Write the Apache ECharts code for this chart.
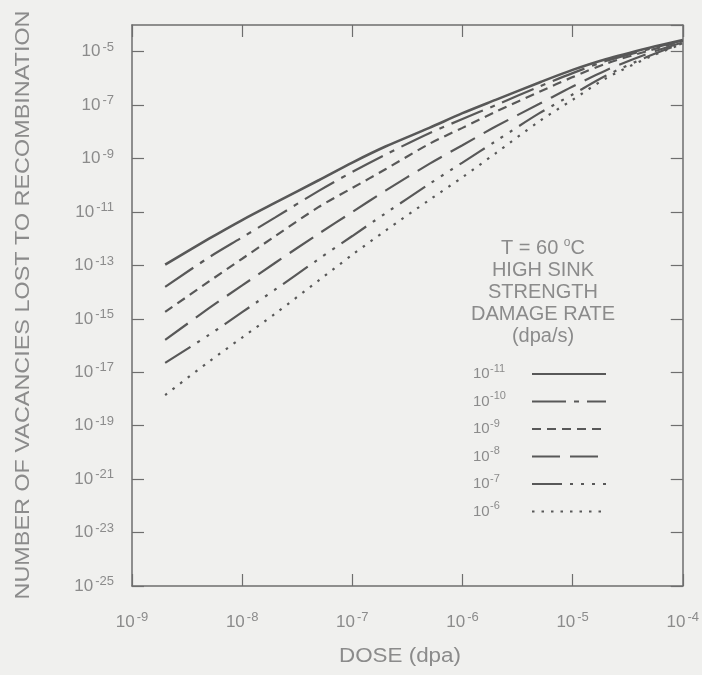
<!DOCTYPE html>
<html><head><meta charset="utf-8">
<script src="https://cdn.jsdelivr.net/npm/echarts@6/dist/echarts.min.js"></script>
<style>html,body{margin:0;padding:0;background:#f0f0ee;}#c{width:702px;height:675px;}#err{position:absolute;left:150px;top:100px;font:12px monospace;color:red;white-space:pre-wrap;width:500px;}</style>
</head><body><div id="c"></div><div id="err"></div>
<script>
// Dose (dpa) sample points
const dose = [2e-9, 5e-9, 1e-8, 2e-8, 5e-8, 1e-7, 2e-7, 5e-7, 1e-6, 2e-6, 5e-6, 1e-5, 2e-5, 5e-5, 1e-4];
// Vacancies lost to recombination, one array per damage rate (dpa/s)
const rate1e11 = [1.07e-13, 1.0e-12, 5.01e-12, 2.24e-11, 1.58e-10, 7.08e-10, 2.82e-9, 1.41e-8, 5.01e-8, 1.58e-7, 7.08e-7, 2.09e-6, 5.25e-6, 1.41e-5, 2.75e-5];
const rate1e10 = [1.58e-14, 2.0e-13, 1.12e-12, 6.31e-12, 6.31e-11, 3.16e-10, 1.41e-9, 8.91e-9, 3.02e-8, 1.0e-7, 5.01e-7, 1.58e-6, 4.47e-6, 1.26e-5, 2.63e-5];
const rate1e9  = [1.82e-15, 2.51e-14, 1.78e-13, 1.26e-12, 1.58e-11, 7.94e-11, 3.98e-10, 3.55e-9, 1.41e-8, 5.62e-8, 3.16e-7, 1.12e-6, 3.55e-6, 1.12e-5, 2.51e-5];
const rate1e8  = [1.62e-16, 2.51e-15, 1.78e-14, 1.26e-13, 1.58e-12, 1.0e-11, 6.31e-11, 6.31e-10, 3.16e-9, 1.58e-8, 1.12e-7, 5.01e-7, 2.0e-6, 8.91e-6, 2.24e-5];
const rate1e7  = [2.24e-17, 2.51e-16, 1.78e-15, 1.26e-14, 1.78e-13, 1.26e-12, 8.91e-12, 1.12e-10, 7.08e-10, 4.47e-9, 5.01e-8, 2.51e-7, 1.26e-6, 7.08e-6, 2.09e-5];
const rate1e6  = [1.41e-18, 2.51e-17, 2.0e-16, 1.58e-15, 2.82e-14, 2.51e-13, 2.0e-12, 2.82e-11, 2.0e-10, 1.58e-9, 2.51e-8, 1.58e-7, 1.0e-6, 6.31e-6, 2.0e-5];
// Legend labels (exponent of damage rate)
const rateExponents = ['-11', '-10', '-9', '-8', '-7', '-6'];
// Axis ranges (decades) / tick step
const xMin = 1e-9, xMax = 1e-4;
const yMinExp = -25, yMaxExp = -4;
const yTickStepDecades = 2;
const annotationLines = ['T = 60 {s|o}C', 'HIGH SINK', 'STRENGTH', 'DAMAGE RATE', '(dpa/s)'];
const xTitle = 'DOSE (dpa)';
const yTitle = 'NUMBER OF VACANCIES LOST TO RECOMBINATION';

const TXT = '#8b8b8b';
const AX = '#6e6e6e';
const LN = '#585858';
const FONT = '"Liberation Sans", Arial, sans-serif';

const seriesData = [rate1e11, rate1e10, rate1e9, rate1e8, rate1e7, rate1e6];
const dashStyles = [
  'solid',
  [34, 8, 5, 8],
  [9, 6],
  [28, 10],
  [30, 8, 3, 8, 3, 8, 3, 8],
  [2.5, 7]
];
const widths = [2.6, 2.2, 2.2, 2.2, 2.2, 2.2];

function xLabel(v) {
  const e = Math.round(Math.log10(v));
  return '{b|10}{s|' + e + '}';
}
function yLabel(v) {
  return '{b|10}{s|' + Math.round(v) + '}';
}
const tickRich = {
  b: {fontSize: 17, lineHeight: 22, color: TXT, fontFamily: FONT},
  s: {fontSize: 13, lineHeight: 8, color: TXT, fontFamily: FONT, verticalAlign: 'top', padding: [0, 0, 0, 2]}
};
const legendRich = {
  b: {fontSize: 15, lineHeight: 22, width: 17, color: TXT, fontFamily: FONT, align: 'left'},
  s: {fontSize: 11, lineHeight: 8, width: 37, color: TXT, fontFamily: FONT, verticalAlign: 'top', align: 'left'}
};

function axisCommon() {
  return {
    axisLine: {show: true, onZero: false, lineStyle: {color: AX, width: 1.5}},
    axisTick: {show: true, inside: true, length: 12, lineStyle: {color: AX, width: 1.2}},
    splitLine: {show: false}
  };
}

const series = seriesData.map((vals, k) => ({
  type: 'line',
  name: rateExponents[k],
  data: dose.map((d, i) => [d, Math.log10(vals[i])]),
  symbol: 'none',
  showSymbol: false,
  smooth: 0.3,
  lineStyle: {color: LN, width: widths[k], type: dashStyles[k]},
  itemStyle: {color: LN}
}));

const option = {
  backgroundColor: '#f0f0ee',
  animation: false,
  grid: {left: 132, right: 19, top: 25, bottom: 89},
  xAxis: [
    Object.assign({type: 'log', logBase: 10, min: xMin, max: xMax, position: 'bottom',
      axisLabel: {show: true, margin: 25, formatter: xLabel, rich: tickRich}}, axisCommon()),
    Object.assign({type: 'log', logBase: 10, min: xMin, max: xMax, position: 'top',
      axisLabel: {show: false}}, axisCommon())
  ],
  yAxis: [
    Object.assign({type: 'value', min: yMinExp, max: yMaxExp, interval: yTickStepDecades, position: 'left',
      axisLabel: {show: true, margin: 18, showMaxLabel: false, formatter: yLabel, rich: tickRich}}, axisCommon()),
    Object.assign({type: 'value', min: yMinExp, max: yMaxExp, interval: yTickStepDecades, position: 'right',
      axisLabel: {show: false}}, axisCommon())
  ],
  legend: {
    orient: 'vertical',
    left: 468,
    top: 358,
    align: 'right',
    itemWidth: 74,
    itemHeight: 14,
    itemGap: 9,
    selectedMode: false,
    data: rateExponents,
    itemStyle: {opacity: 0},
    formatter: name => '{b|10}{s|' + name + '}',
    textStyle: {color: TXT, fontFamily: FONT, rich: legendRich}
  },
  graphic: [
    {type: 'text', x: 23, y: 305, rotation: Math.PI / 2, scaleX: 1.17, silent: true,
      style: {text: yTitle, fontSize: 20, fontFamily: FONT, fill: TXT,
        textAlign: 'center', textVerticalAlign: 'middle'}},
    {type: 'text', x: 400, y: 656, scaleX: 1.12, silent: true,
      style: {text: xTitle, fontSize: 20, fontFamily: FONT, fill: TXT,
        textAlign: 'center', textVerticalAlign: 'middle'}},
    {type: 'text', x: 543, y: 237, silent: true,
      style: {text: annotationLines.join('\n'), fontSize: 20, lineHeight: 22, fontFamily: FONT, fill: TXT,
        textAlign: 'center', textVerticalAlign: 'top',
        rich: {s: {fontSize: 12, lineHeight: 8, verticalAlign: 'top', fill: TXT, fontFamily: FONT}}}}
  ],
  series: series
};

try {
  const chart = echarts.init(document.getElementById('c'), null, {renderer: 'canvas'});
  chart.setOption(option);
} catch (e) {
  document.getElementById('err').textContent = String(e && e.stack || e);
}
</script>
</body></html>
